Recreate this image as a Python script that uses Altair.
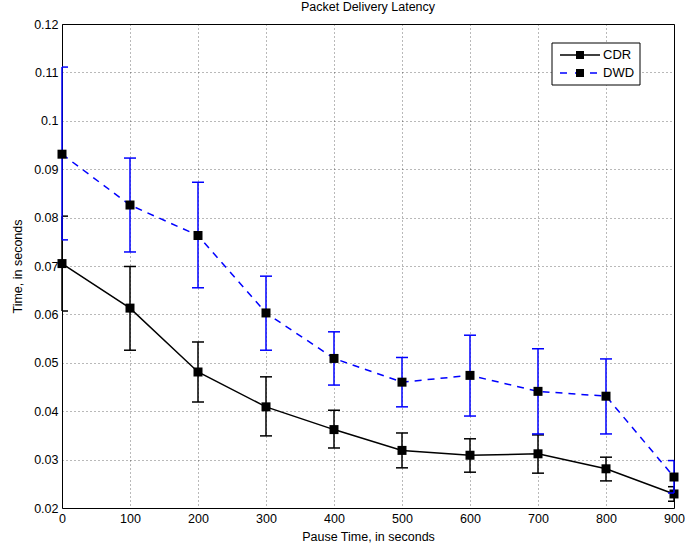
import altair as alt
import pandas as pd

# ---- data ----
pause = [0, 100, 200, 300, 400, 500, 600, 700, 800, 900]
cdr_mean = [0.0705, 0.0613, 0.0481, 0.0409, 0.0362, 0.0319, 0.0309, 0.0312, 0.0281, 0.0229]
cdr_low = [0.0607, 0.0526, 0.0419, 0.0349, 0.0324, 0.0283, 0.0274, 0.0272, 0.0256, 0.0214]
cdr_high = [0.0803, 0.0699, 0.0543, 0.0471, 0.0402, 0.0355, 0.0343, 0.0351, 0.0305, 0.0244]
dwd_mean = [0.0931, 0.0826, 0.0763, 0.0603, 0.0509, 0.0460, 0.0474, 0.0441, 0.0431, 0.0264]
dwd_low = [0.0754, 0.0729, 0.0655, 0.0526, 0.0454, 0.0409, 0.0390, 0.0353, 0.0353, 0.0231]
dwd_high = [0.1111, 0.0923, 0.0873, 0.0679, 0.0564, 0.0511, 0.0557, 0.0529, 0.0508, 0.0298]
y_ticks = [0.02, 0.03, 0.04, 0.05, 0.06, 0.07, 0.08, 0.09, 0.1, 0.11, 0.12]
series_names = ["CDR", "DWD"]

FONT = "Liberation Sans"

cdr = pd.DataFrame({"pause": pause, "mean": cdr_mean, "low": cdr_low, "high": cdr_high})
dwd = pd.DataFrame({"pause": pause, "mean": dwd_mean, "low": dwd_low, "high": dwd_high})

xs = alt.Scale(domain=[0, 900], nice=False)
ys = alt.Scale(domain=[0.02, 0.12], nice=False, zero=False)
x_axis = alt.Axis(values=pause, format="d", title="Pause Time, in seconds")
y_axis = alt.Axis(values=y_ticks, format="~g", title="Time, in seconds")


def X():
    return alt.X("pause:Q", scale=xs, axis=x_axis)


def Y(field):
    return alt.Y(f"{field}:Q", scale=ys, axis=y_axis)


def series_layers(df, color, dash):
    base = alt.Chart(df)
    bars = base.mark_rule(color=color, strokeWidth=1.5).encode(
        x=X(), y=Y("low"), y2=alt.Y2("high:Q"))
    cap_lo = base.mark_tick(orient="horizontal", color=color, size=12,
                            thickness=1.5, opacity=1, clip=True).encode(x=X(), y=Y("low"))
    cap_hi = base.mark_tick(orient="horizontal", color=color, size=12,
                            thickness=1.5, opacity=1, clip=True).encode(x=X(), y=Y("high"))
    line_kw = dict(color=color, strokeWidth=1.5)
    if dash:
        line_kw["strokeDash"] = dash
    line = base.mark_line(**line_kw).encode(x=X(), y=Y("mean"))
    pts = base.mark_square(size=81, color="black", opacity=1).encode(x=X(), y=Y("mean"))
    return [bars, cap_lo, cap_hi, line, pts]


layers = series_layers(cdr, "black", None) + series_layers(dwd, "#0000ff", [7, 6])

# ---- legend (drawn by hand, like the MATLAB box legend) ----
one = pd.DataFrame({"k": [0]})
leg_box = alt.Chart(one).mark_rect(fill="white", stroke="black", strokeWidth=1).encode(
    x=alt.value(490), x2=alt.value(578), y=alt.value(19), y2=alt.value(61))
leg = [leg_box]
for name, yy, color, dash in [(series_names[0], 31, "black", None),
                              (series_names[1], 49, "#0000ff", [7, 8])]:
    kw = dict(color=color, strokeWidth=1.5)
    if dash:
        kw["strokeDash"] = dash
    leg.append(alt.Chart(one).mark_rule(**kw).encode(
        x=alt.value(498), x2=alt.value(538), y=alt.value(yy)))
    leg.append(alt.Chart(one).mark_square(size=64, color="black", opacity=1).encode(
        x=alt.value(518), y=alt.value(yy)))
    leg.append(alt.Chart(one).mark_text(align="left", baseline="middle", font=FONT,
                                         fontSize=13, color="black").encode(
        x=alt.value(541), y=alt.value(yy), text=alt.value(name)))

chart = alt.layer(*layers, *leg).properties(
    width=612, height=484,
    title=alt.TitleParams("Packet Delivery Latency", font=FONT, fontSize=12.5,
                          fontWeight="normal", color="black", offset=5, anchor="middle"),
    autosize=alt.AutoSizeParams(type="none"),
    padding={"left": 62, "top": 24, "right": 11, "bottom": 42},
).configure_view(
    stroke="black", strokeWidth=1
).configure_axis(
    labelFont=FONT, labelFontSize=12.5, labelColor="black",
    titleFont=FONT, titleFontSize=12.5, titleFontWeight="normal", titleColor="black",
    domain=False, ticks=False, grid=True, gridColor="black", gridOpacity=0.55,
    gridDash=[1, 3], gridWidth=1, labelFlush=False, labelOverlap=False, labelPadding=4,
).configure_axisX(titlePadding=6).configure_axisY(titlePadding=9)

chart.save("out.html", embed_options={"renderer": "svg", "actions": False})
